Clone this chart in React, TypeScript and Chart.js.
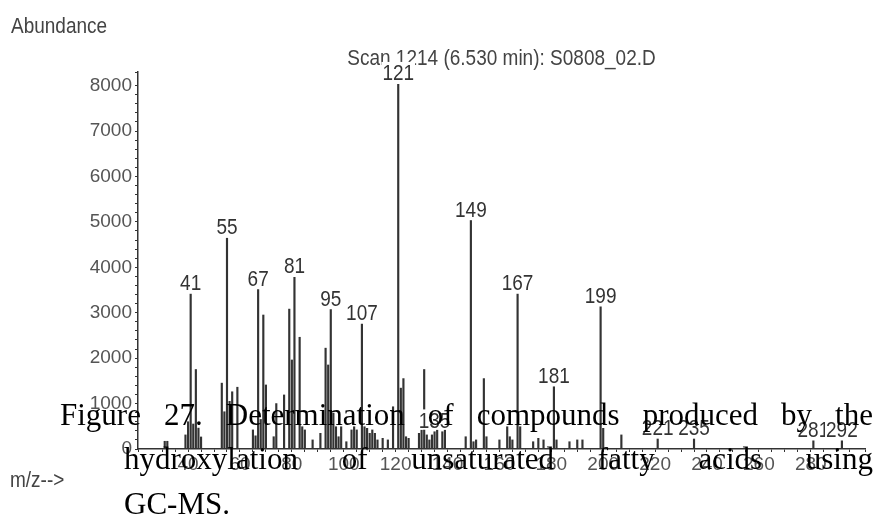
import React, { useEffect, useRef } from "react";
import { Chart, registerables } from "chart.js";

Chart.register(...registerables);

const TITLE = "Scan 1214 (6.530 min): S0808_02.D";
const Y_TITLE = "Abundance";
const X_TITLE = "m/z-->";
const CAPTION_LINES = [
  "Figure 27. Determination of compounds produced by the",
  "hydroxylation of unsaturated fatty acids using",
  "GC-MS.",
];

// m/z values of the ion peaks
const mz = [
  31, 32, 39, 40, 41, 42, 43, 44, 45,
  53, 54, 55, 56, 57, 59,
  65, 66, 67, 68, 69, 70, 73, 74, 77, 79, 80, 81, 83, 84, 85, 88,
  91, 93, 94, 95, 96, 97, 98, 99,
  101, 103, 104, 105, 107, 108, 109, 110, 111, 112, 113, 115, 117, 119,
  121, 122, 123, 124, 125, 129, 130, 131, 132, 133, 134, 135, 136, 138, 139,
  147, 149, 150, 151, 154, 155, 160, 163, 164, 165, 167, 168,
  173, 175, 177, 181, 182, 187, 190, 192, 199, 200, 207,
  221, 235, 281, 292,
];

// abundance of each peak (same order as mz)
const abundance = [
  170, 170, 310, 600, 3410, 550, 1750, 460, 265,
  1450, 820, 4640, 1050, 1260, 1360,
  420, 290, 3510, 650, 2950, 1410, 270, 1000, 1190, 3080, 1960, 3780, 2460, 490, 420, 200,
  345, 2220, 1850, 3070, 790, 490, 270, 490,
  160, 420, 490, 420, 2750, 490, 455, 345, 420, 345, 200, 235, 200, 930,
  8030, 1340, 1550, 270, 235, 345, 420, 1750, 310, 200, 310, 380, 420, 380, 420,
  270, 5030, 160, 200, 1550, 270, 200, 490, 270, 200, 3410, 490,
  160, 235, 200, 1370, 200, 160, 200, 200, 3130, 455, 310,
  220, 220, 180, 180,
];

// peaks carrying an m/z label
const labelledPeaks = [41, 55, 67, 81, 95, 107, 121, 135, 149, 167, 181, 199, 221, 235, 281, 292];

const yTickStep = 200;
const yLabelStep = 1000;
const xTickStep = 5;
const xLabelStep = 20;
const xFirstLabel = 40;

const SANS = "'Liberation Sans', Arial, sans-serif";

function stretchedText(
  ctx: CanvasRenderingContext2D,
  text: string,
  x: number,
  y: number,
  align: CanvasTextAlign,
  size: number,
  color: string,
  sy = 1.2
) {
  ctx.save();
  ctx.font = `${size}px ${SANS}`;
  ctx.fillStyle = color;
  ctx.textAlign = align;
  ctx.textBaseline = "alphabetic";
  ctx.translate(x, y);
  ctx.scale(1, sy);
  ctx.fillText(text, 0, 0);
  ctx.restore();
}

const textPlugin = {
  id: "msText",
  afterDraw(chart: any) {
    const ctx: CanvasRenderingContext2D = chart.ctx;
    const xs = chart.scales.x;
    const ys = chart.scales.y;
    const area = chart.chartArea;
    stretchedText(ctx, Y_TITLE, 11, 33, "left", 19, "#444");
    stretchedText(ctx, X_TITLE, 10, 487, "left", 19, "#444");
    stretchedText(ctx, TITLE, (area.left + area.right) / 2, 65, "center", 19, "#444");

    ctx.save();
    ctx.font = `19px ${SANS}`;
    const h = 19 * 0.716 * 1.2;
    for (const m of labelledPeaks) {
      const i = mz.indexOf(m);
      if (i < 0) continue;
      const x = xs.getPixelForValue(m);
      const top = ys.getPixelForValue(abundance[i]);
      const base = top - 4;
      const w = ctx.measureText(String(m)).width;
      ctx.fillStyle = "#fff";
      ctx.fillRect(x - w / 2 - 1, base - h - 2, w + 2, h + 4);
      stretchedText(ctx, String(m), x, base, "center", 19, "#333");
    }
    ctx.restore();
  },
};

export default function App() {
  const canvasRef = useRef<HTMLCanvasElement | null>(null);

  useEffect(() => {
    if (!canvasRef.current) return;
    const chart = new Chart(canvasRef.current, {
      type: "bar",
      data: {
        datasets: [
          {
            data: mz.map((m, i) => ({ x: m, y: abundance[i] })),
            backgroundColor: "#333",
            borderWidth: 0,
            barThickness: 1.5,
          } as any,
        ],
      },
      options: {
        responsive: false,
        animation: false,
        devicePixelRatio: 1,
        layout: { padding: { left: 0, right: 15, top: 72, bottom: 0 } },
        plugins: {
          legend: { display: false },
          tooltip: { enabled: false },
          title: { display: false },
        },
        scales: {
          x: {
            type: "linear",
            min: 20.7,
            max: 300.9,
            offset: false,
            grid: {
              display: true,
              drawOnChartArea: false,
              drawTicks: true,
              tickLength: 3,
              offset: false,
              color: "#333",
            },
            border: { display: true, color: "#333", width: 1.5 },
            ticks: {
              stepSize: xTickStep,
              autoSkip: false,
              maxRotation: 0,
              minRotation: 0,
              padding: 1,
              color: "#555",
              font: { family: SANS, size: 19 },
              callback: (v: any) => {
                const n = Number(v);
                return n >= xFirstLabel && n % xLabelStep === 0 ? String(n) : "";
              },
            },
            afterFit: (s: any) => {
              s.height = 81;
            },
          },
          y: {
            type: "linear",
            min: 0,
            max: 8300,
            grid: {
              display: true,
              drawOnChartArea: false,
              drawTicks: true,
              tickLength: 3,
              color: "#333",
            },
            border: { display: true, color: "#333", width: 1.5 },
            ticks: {
              stepSize: yTickStep,
              autoSkip: false,
              padding: 3,
              color: "#555",
              font: { family: SANS, size: 19 },
              callback: (v: any) => {
                const n = Number(v);
                return n % yLabelStep === 0 ? String(n) : "";
              },
            },
            afterFit: (s: any) => {
              s.width = 138;
            },
          },
        } as any,
      },
      plugins: [textPlugin],
    });
    return () => chart.destroy();
  }, []);

  const captionBase: React.CSSProperties = {
    position: "absolute",
    fontFamily: "'Liberation Serif', 'Times New Roman', serif",
    fontSize: 31,
    lineHeight: "31px",
    color: "#000",
    margin: 0,
  };

  return (
    <div
      style={{
        position: "fixed",
        left: 0,
        top: 0,
        width: 880,
        height: 530,
        background: "#fff",
        overflow: "hidden",
      }}
    >
      <canvas
        ref={canvasRef}
        width={880}
        height={530}
        style={{ position: "absolute", left: 0, top: 0 }}
      />
      <div
        style={{
          ...captionBase,
          left: 60,
          top: 399,
          width: 813,
          textAlign: "justify",
          textAlignLast: "justify",
        }}
      >
        {CAPTION_LINES[0]}
      </div>
      <div
        style={{
          ...captionBase,
          left: 124,
          top: 443,
          width: 749,
          textAlign: "justify",
          textAlignLast: "justify",
        }}
      >
        {CAPTION_LINES[1]}
      </div>
      <div style={{ ...captionBase, left: 124, top: 488 }}>{CAPTION_LINES[2]}</div>
    </div>
  );
}
